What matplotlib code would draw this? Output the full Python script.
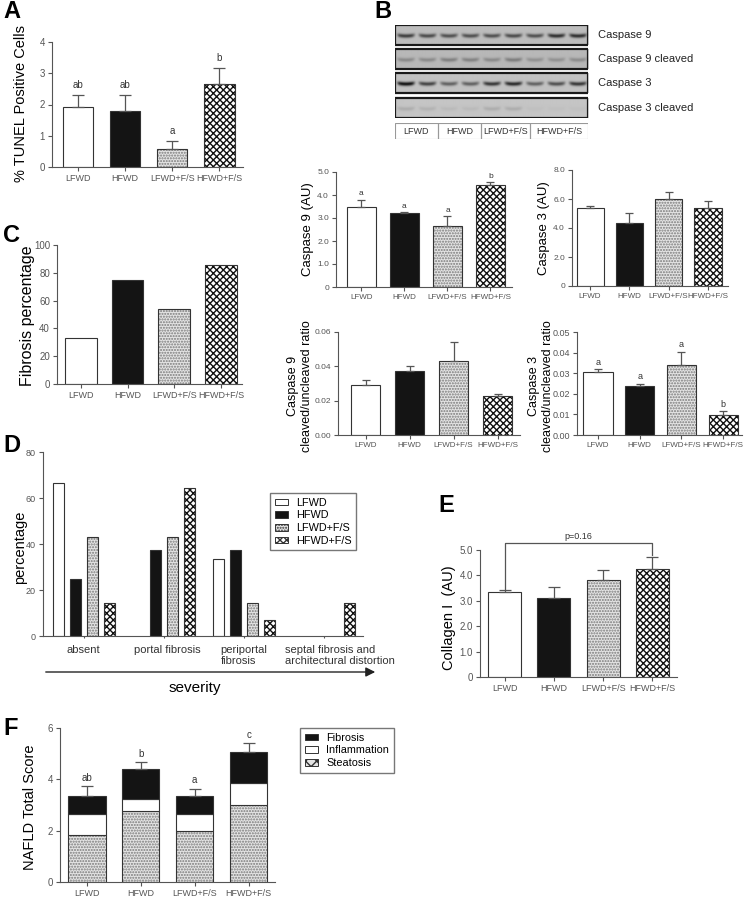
import numpy as np
import matplotlib
matplotlib.use('Agg')
import matplotlib.pyplot as plt
from matplotlib.patches import Patch, Rectangle

plt.rcParams['font.family'] = ['Liberation Sans', 'DejaVu Sans']
plt.rcParams['hatch.linewidth'] = 1.0

# ---- data ----
groups = ['LFWD', 'HFWD', 'LFWD+F/S', 'HFWD+F/S']

tunel = [1.93, 1.80, 0.58, 2.67]
tunel_err = [0.38, 0.50, 0.25, 0.50]
tunel_letters = ['ab', 'ab', 'a', 'b']

blot_names = ['Caspase 9', 'Caspase 9 cleaved', 'Caspase 3', 'Caspase 3 cleaved']
lanes_casp9 = [0.50, 0.45, 0.43, 0.43, 0.43, 0.45, 0.43, 0.56, 0.56]
lanes_casp9_cl = [0.18, 0.18, 0.22, 0.21, 0.18, 0.23, 0.15, 0.15, 0.17]
lanes_casp3 = [0.70, 0.50, 0.38, 0.38, 0.55, 0.60, 0.38, 0.45, 0.55]
lanes_casp3_cl = [0.09, 0.07, 0.04, 0.04, 0.09, 0.09, 0.02, 0.02, 0.02]
blot_groups = ['LFWD', 'HFWD', 'LFWD+F/S', 'HFWD+F/S']
blot_group_lanes = [2, 2, 2.3, 2.7]

casp9 = [3.48, 3.22, 2.65, 4.45]
casp9_err = [0.30, 0.02, 0.42, 0.10]
casp9_letters = ['a', 'a', 'a', 'b']

casp3 = [5.35, 4.35, 5.97, 5.40]
casp3_err = [0.15, 0.68, 0.50, 0.48]

casp9_ratio = [0.029, 0.037, 0.043, 0.023]
casp9_ratio_err = [0.003, 0.003, 0.011, 0.001]

casp3_ratio = [0.0305, 0.024, 0.034, 0.0097]
casp3_ratio_err = [0.0015, 0.001, 0.0065, 0.0018]
casp3_ratio_letters = ['a', 'a', 'a', 'b']

fibrosis_pct = [33.3, 75.0, 54.3, 85.7]

severity_cats = ['absent', 'portal fibrosis', 'periportal\nfibrosis',
                 'septal fibrosis and\narchitectural distortion']
sev_lfwd = [66.7, 0.0, 33.3, 0.0]
sev_hfwd = [25.0, 37.5, 37.5, 0.0]
sev_lfwd_fs = [42.9, 42.9, 14.3, 0.0]
sev_hfwd_fs = [14.3, 64.3, 7.1, 14.3]

collagen = [3.35, 3.12, 3.82, 4.25]
collagen_err = [0.08, 0.42, 0.38, 0.47]
collagen_p = 'p=0.16'

steatosis = [1.83, 2.75, 2.00, 3.00]
inflammation = [0.82, 0.48, 0.64, 0.84]
fibrosis = [0.70, 1.16, 0.72, 1.23]
nafld_err = [0.40, 0.28, 0.28, 0.35]
nafld_letters = ['ab', 'b', 'a', 'c']

# ---- styles: (face, hatch, hatch colour) ----
styles = [('white', None, None),
          ('#141414', None, None),
          ('#e4e4e4', '......', '#7a7a7a'),
          ('white', 'xxxxx', '#111111')]
EDGE = '#333333'
AX = '#555555'

W, H = 746, 900
fig = plt.figure(figsize=(W / 100, H / 100), dpi=100)


def px_axes(l, t, r, b):
    return fig.add_axes([l / W, 1 - b / H, (r - l) / W, (b - t) / H])


def ftext(x, y, s, **kw):
    fig.text(x / W, 1 - y / H, s, **kw)


def bar_styled(ax, x, h, width, style, bottom=0):
    face, hatch, hcol = style
    if hatch:
        ax.bar(x, h, width, bottom=bottom, color=face, edgecolor=hcol,
               hatch=hatch, linewidth=0)
        ax.bar(x, h, width, bottom=bottom, fill=False, edgecolor=EDGE, linewidth=0.8)
    else:
        ax.bar(x, h, width, bottom=bottom, color=face, edgecolor=EDGE, linewidth=0.8)


def style_ax(ax, xlim, ylim, yticks, ytl, fs=6.5, xfs=6.5, xt=None, xtl=None):
    ax.set_xlim(*xlim)
    ax.set_ylim(*ylim)
    for s in ['top', 'right']:
        ax.spines[s].set_visible(False)
    for s in ['left', 'bottom']:
        ax.spines[s].set_color(AX)
        ax.spines[s].set_linewidth(0.8)
    ax.set_yticks(yticks)
    ax.set_yticklabels(ytl, fontsize=fs, color='#333')
    if xt is None:
        xt = np.arange(len(groups))
        xtl = groups
    ax.set_xticks(xt)
    ax.set_xticklabels(xtl, fontsize=xfs, color='#333')
    ax.tick_params(colors=AX, length=3, width=0.8, pad=2)


def simple_bars(ax, vals, errs, width, letters=None, lfs=6.5, cap=3, gap=None):
    x = np.arange(len(vals))
    for i in range(len(vals)):
        bar_styled(ax, x[i], vals[i], width, styles[i])
    ax.errorbar(x, vals, yerr=[np.zeros(len(vals)), errs], fmt='none',
                ecolor=AX, elinewidth=0.9, capsize=cap, capthick=0.9, zorder=1)
    if letters:
        for i, l in enumerate(letters):
            ax.text(x[i], vals[i] + errs[i] + gap, l, ha='center', va='bottom',
                    fontsize=lfs, color='#333')


# ---- panel A ----
axA = px_axes(52, 42, 243, 167)
simple_bars(axA, tunel, tunel_err, 0.64, tunel_letters, lfs=7, cap=4, gap=0.15)
style_ax(axA, (-0.55, 3.5), (0, 4), [0, 1, 2, 3, 4], ['0', '1', '2', '3', '4'],
         fs=7, xfs=6.5)
ftext(21, 103, '% TUNEL Positive Cells', rotation=90, ha='center', va='center', fontsize=10.5)
ftext(3, 18, 'A', fontsize=17, fontweight='bold')

# ---- panel B blot ----
ftext(374, 18, 'B', fontsize=17, fontweight='bold')
axBl = px_axes(395, 25, 588, 118)
axBl.set_xlim(0, 1)
axBl.set_ylim(93, 0)
axBl.axis('off')
rows_top = [0, 24, 48, 73]
row_h = 20
all_lanes = [lanes_casp9, lanes_casp9_cl, lanes_casp3, lanes_casp3_cl]
bgs = [0.74, 0.72, 0.76, 0.77]
yy = np.linspace(-1, 1, 40)[:, None]
xx = np.linspace(0, 9, 360)[None, :]
for r, lanes in enumerate(all_lanes):
    img = np.full((40, 360), bgs[r])
    for k, inten in enumerate(lanes):
        prof_x = np.exp(-((xx - (k + 0.5)) / 0.40) ** 6)
        sag = 0.15 * ((xx - (k + 0.5)) / 0.5) ** 2
        prof_y = np.exp(-((yy - 0.1 + sag) / 0.2) ** 2)
        img -= inten * prof_x * prof_y
    axBl.imshow(np.clip(img, 0, 1), cmap='gray', vmin=0, vmax=1, aspect='auto',
                extent=(0, 1, rows_top[r] + row_h, rows_top[r]), interpolation='bilinear')
    axBl.add_patch(Rectangle((0, rows_top[r]), 1, row_h, fill=False,
                             edgecolor='#1a1a1a', linewidth=1.6))
    ftext(598, 25 + rows_top[r] + row_h / 2, blot_names[r], fontsize=8,
          va='center', color='#222')

axBk = px_axes(395, 123, 588, 139)
axBk.set_xlim(0, sum(blot_group_lanes))
axBk.set_ylim(0, 1)
axBk.axis('off')
start = 0
for g, n in zip(blot_groups, blot_group_lanes):
    axBk.add_patch(Rectangle((start, 0), n, 1, fill=False, edgecolor='#999', linewidth=0.8))
    axBk.text(start + n / 2, 0.5, g, ha='center', va='center', fontsize=6.5, color='#333')
    start += n

# ---- caspase 9 ----
axC9 = px_axes(336, 172, 512, 287)
simple_bars(axC9, casp9, casp9_err, 0.67, casp9_letters, lfs=6, cap=3, gap=0.12)
style_ax(axC9, (-0.59, 3.5), (0, 5), [0, 1, 2, 3, 4, 5],
         ['0', '1.0', '2.0', '3.0', '4.0', '5.0'], fs=6, xfs=5.8)
ftext(308, 229, 'Caspase 9 (AU)', rotation=90, ha='center', va='center', fontsize=9.5)

# ---- caspase 3 ----
axC3 = px_axes(572, 170, 728, 286)
simple_bars(axC3, casp3, casp3_err, 0.69, cap=3)
style_ax(axC3, (-0.46, 3.51), (0, 8), [0, 2, 4, 6, 8],
         ['0', '2.0', '4.0', '6.0', '8.0'], fs=6, xfs=5.8)
ftext(544, 228, 'Caspase 3 (AU)', rotation=90, ha='center', va='center', fontsize=9.5)

# ---- caspase 9 ratio ----
axR9 = px_axes(338, 332, 520, 435)
simple_bars(axR9, casp9_ratio, casp9_ratio_err, 0.67, cap=3)
style_ax(axR9, (-0.63, 3.51), (0, 0.06), [0, 0.02, 0.04, 0.06],
         ['0.00', '0.02', '0.04', '0.06'], fs=6, xfs=5.8)
ftext(300, 386, 'Caspase 9\ncleaved/uncleaved ratio', rotation=90, ha='center',
      va='center', fontsize=9, linespacing=1.15)

# ---- caspase 3 ratio ----
axR3 = px_axes(577, 332, 742, 435)
simple_bars(axR3, casp3_ratio, casp3_ratio_err, 0.7, casp3_ratio_letters,
            lfs=6.5, cap=3, gap=0.0012)
style_ax(axR3, (-0.5, 3.45), (0, 0.05), [0, 0.01, 0.02, 0.03, 0.04, 0.05],
         ['0.00', '0.01', '0.02', '0.03', '0.04', '0.05'], fs=6.5, xfs=5.8)
ftext(541, 386, 'Caspase 3\ncleaved/uncleaved ratio', rotation=90, ha='center',
      va='center', fontsize=9, linespacing=1.15)

# ---- panel C ----
axCc = px_axes(57, 245, 242, 384)
x = np.arange(4)
for i in range(4):
    bar_styled(axCc, x[i], fibrosis_pct[i], 0.68, styles[i])
style_ax(axCc, (-0.51, 3.45), (0, 100), [0, 20, 40, 60, 80, 100],
         ['0', '20', '40', '60', '80', '100'], fs=7, xfs=6.5)
ftext(28, 316, 'Fibrosis percentage', rotation=90, ha='center', va='center', fontsize=11.5)
ftext(3, 242, 'C', fontsize=17, fontweight='bold')

# ---- panel D ----
axD = px_axes(43, 452, 363, 636)
sev_series = [sev_lfwd, sev_hfwd, sev_lfwd_fs, sev_hfwd_fs]
xg = np.arange(len(severity_cats))
step = 17 / 80
for j, ser in enumerate(sev_series):
    for k in range(len(xg)):
        if ser[k] > 0:
            bar_styled(axD, xg[k] + (j - 1.5) * step, ser[k], 0.14, styles[j])
style_ax(axD, (-0.51, 3.49), (0, 80), [0, 20, 40, 60, 80],
         ['0', '20', '40', '60', '80'], fs=6.5, xfs=8, xt=xg, xtl=[''] * 4)
axD.tick_params(axis='x', length=1.5)
cat_shift = [0.0, 0.05, 0.0, 0.2]
for k, c in enumerate(severity_cats):
    axD.text(xg[k] + cat_shift[k], -4, c, ha='center', va='top', fontsize=8,
             multialignment='left', color='#333', linespacing=1.1)
ftext(20, 547, 'percentage', rotation=90, ha='center', va='center', fontsize=10.5)
ftext(3, 452, 'D', fontsize=17, fontweight='bold')
handles = [Patch(facecolor=s[0], hatch=s[1], edgecolor=EDGE, linewidth=0.7) for s in styles]
axD.legend(handles, groups, loc='upper left',
           bbox_to_anchor=(265 / W, 1 - 488 / H), bbox_transform=fig.transFigure,
           fontsize=7.8, frameon=True, fancybox=False, edgecolor='#555',
           handlelength=1.2, handleheight=0.55, borderpad=0.4, labelspacing=0.25)
axD.annotate('', xy=(378 / W, 1 - 672 / H), xytext=(43 / W, 1 - 672 / H),
             xycoords='figure fraction', textcoords='figure fraction',
             arrowprops=dict(arrowstyle='-|>', lw=1.0, color='#222', mutation_scale=14))
ftext(195, 688, 'severity', ha='center', va='center', fontsize=11)

# ---- panel E ----
axE = px_axes(480, 550, 677, 677)
simple_bars(axE, collagen, collagen_err, 0.67, cap=4)
style_ax(axE, (-0.5, 3.5), (0, 5), [0, 1, 2, 3, 4, 5],
         ['0', '1.0', '2.0', '3.0', '4.0', '5.0'], fs=7, xfs=6.5)
top_br = 5.28
axE.plot([0, 0, 3, 3],
         [collagen[0] + collagen_err[0] + 0.05, top_br, top_br,
          collagen[3] + collagen_err[3] + 0.08],
         color=AX, lw=0.9, clip_on=False)
axE.text(1.5, top_br + 0.08, collagen_p, ha='center', va='bottom', fontsize=6.5, color='#333')
ftext(449, 618, 'Collagen I  (AU)', rotation=90, ha='center', va='center', fontsize=10.5)
ftext(438, 512, 'E', fontsize=17, fontweight='bold')

# ---- panel F ----
axF = px_axes(60, 728, 275, 882)
x = np.arange(4)
st_style = ('#e4e4e4', '......', '#7a7a7a')
for i in range(4):
    bar_styled(axF, x[i], steatosis[i], 0.69, st_style)
    bar_styled(axF, x[i], inflammation[i], 0.69, styles[0], bottom=steatosis[i])
    bar_styled(axF, x[i], fibrosis[i], 0.69, styles[1],
               bottom=steatosis[i] + inflammation[i])
tot = np.array(steatosis) + np.array(inflammation) + np.array(fibrosis)
axF.errorbar(x, tot, yerr=[np.zeros(4), nafld_err], fmt='none', ecolor=AX,
             elinewidth=0.9, capsize=4, capthick=0.9, zorder=1)
for i, l in enumerate(nafld_letters):
    axF.text(x[i], tot[i] + nafld_err[i] + 0.12, l, ha='center', va='bottom',
             fontsize=7, color='#333')
style_ax(axF, (-0.5, 3.49), (0, 6), [0, 2, 4, 6], ['0', '2', '4', '6'], fs=7, xfs=6.5)
ftext(30, 807, 'NAFLD Total Score', rotation=90, ha='center', va='center', fontsize=10.5)
ftext(3, 735, 'F', fontsize=17, fontweight='bold')
hF = [Patch(facecolor=styles[1][0], edgecolor=EDGE, linewidth=0.7),
      Patch(facecolor='white', edgecolor=EDGE, linewidth=0.7),
      Patch(facecolor=st_style[0], hatch='xxx', edgecolor=EDGE, linewidth=0.7)]
axF.legend(hF, ['Fibrosis', 'Inflammation', 'Steatosis'], loc='upper left',
           bbox_to_anchor=(295 / W, 1 - 723 / H), bbox_transform=fig.transFigure,
           fontsize=7.8, frameon=True, fancybox=False, edgecolor='#555',
           handlelength=1.2, handleheight=0.55, borderpad=0.4, labelspacing=0.25)

fig.savefig('out.png', dpi=100)
